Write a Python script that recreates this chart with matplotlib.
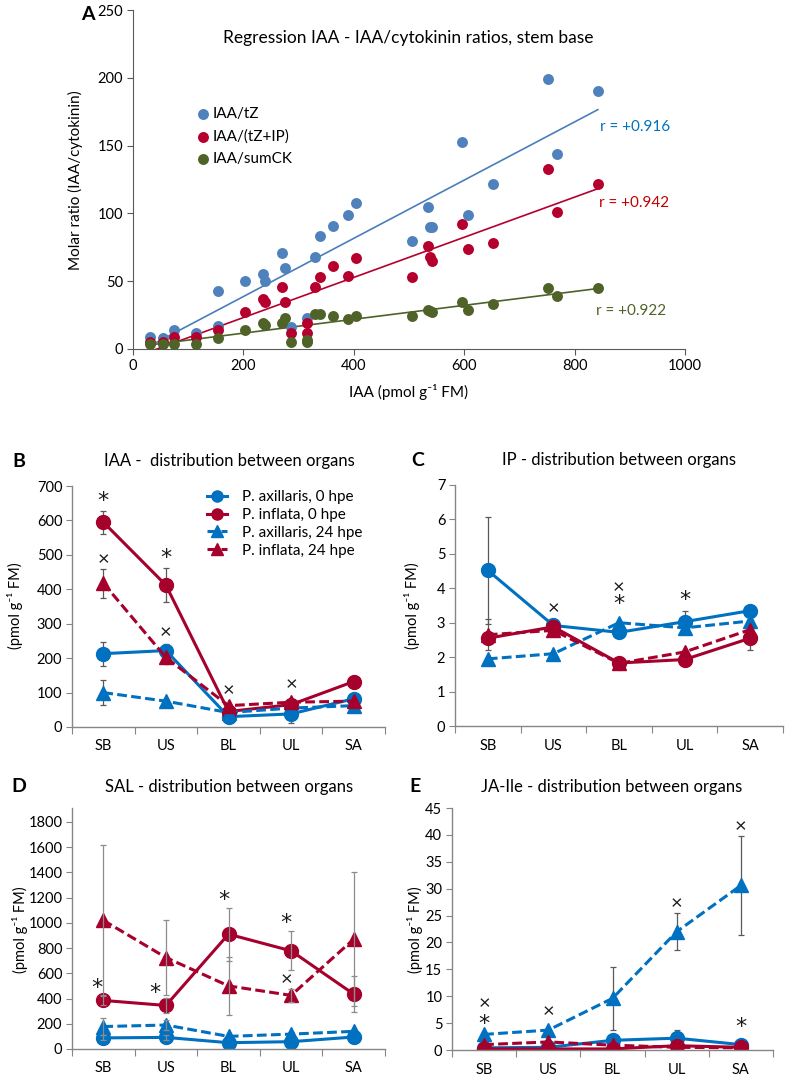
import numpy as np
import matplotlib.pyplot as plt
from matplotlib.lines import Line2D

plt.rcParams['font.family'] = ['Lato', 'DejaVu Sans']

# ---------------- panel A: regression data ----------------
iaa_tz = [31, 55, 75, 114, 154, 154, 203, 235, 239, 270, 275, 286, 315, 330,
          339, 362, 390, 404, 505, 534, 538, 542, 596, 606, 652, 751, 768, 842]
ratio_tz = [9, 8, 14, 12, 17, 43, 50, 55, 50, 71, 60, 16, 23, 68,
            83, 91, 99, 108, 80, 105, 90, 90, 153, 99, 122, 199, 144, 190]

iaa_tzip = [31, 55, 75, 114, 154, 203, 235, 239, 270, 275, 286, 315, 315, 330,
            339, 362, 390, 404, 505, 534, 538, 542, 596, 606, 652, 751, 768, 842]
ratio_tzip = [5, 5, 9, 9, 14, 27, 37, 35, 46, 35, 12, 19, 12, 46,
              53, 61, 54, 67, 53, 76, 68, 65, 92, 74, 78, 133, 101, 122]

iaa_sum = [31, 55, 75, 114, 154, 203, 235, 239, 270, 275, 286, 315, 315, 330,
           339, 362, 390, 404, 505, 534, 538, 542, 596, 606, 652, 751, 768, 842]
ratio_sum = [4, 4, 4, 4, 8, 14, 19, 18, 19, 23, 5, 7, 5, 26,
             26, 24, 22, 24, 24, 29, 28, 27, 35, 29, 33, 45, 39, 45]

r_labels = ['r = +0.916', 'r = +0.942', 'r = +0.922']
r_pos = [(846, 164), (844, 108), (839, 28)]

# ---------------- panels B-E: organ distribution ----------------
organs = ['SB', 'US', 'BL', 'UL', 'SA']
series_names = ['P. axillaris, 0 hpe', 'P. inflata, 0 hpe',
                'P. axillaris, 24 hpe', 'P. inflata, 24 hpe']

iaa_vals = [[213, 222, 30, 38, 82],
            [595, 412, 45, 65, 132],
            [100, 75, 42, 55, 62],
            [418, 202, 62, 72, 75]]
iaa_err = [[35, 20, 8, 25, 10],
           [33, 50, 0, 0, 0],
           [37, 0, 0, 0, 0],
           [42, 20, 0, 10, 0]]
iaa_marks = [(0, 655, '*'), (0, 487, '×'), (1, 490, '*'), (1, 275, '×'),
             (2, 105, '×'), (3, 122, '×')]

ip_vals = [[4.52, 2.92, 2.72, 3.03, 3.35],
           [2.55, 2.88, 1.83, 1.93, 2.55],
           [1.95, 2.10, 3.00, 2.85, 3.05],
           [2.65, 2.78, 1.82, 2.15, 2.80]]
ip_err = [[1.55, 0, 0, 0.3, 0],
          [0, 0, 0, 0, 0.35],
          [0, 0, 0, 0, 0],
          [0.45, 0, 0, 0, 0]]
ip_marks = [(1, 3.4, '×'), (2, 4.03, '×'), (2, 3.53, '*'), (3, 3.67, '*')]

sal_vals = [[88, 92, 50, 58, 95],
            [385, 345, 910, 778, 435],
            [178, 190, 100, 118, 140],
            [1020, 725, 500, 425, 870]]
sal_err = [[20, 20, 0, 0, 0],
           [40, 60, 210, 155, 140],
           [70, 40, 0, 0, 0],
           [600, 300, 230, 50, 530]]
sal_marks = [(-0.1, 484, '*'), (0.83, 444, '*'), (1.92, 1180, '*'),
             (2.92, 1000, '*'), (2.92, 548, '×')]

ja_vals = [[0.4, 0.5, 1.8, 2.2, 1.0],
           [0.2, 0.2, 0.2, 0.8, 0.5],
           [2.9, 3.7, 9.6, 22.0, 30.6],
           [1.0, 1.5, 0.9, 0.5, 0.4]]
ja_err = [[0, 0, 0, 1.5, 0],
          [0, 0, 0, 0, 0],
          [0, 0, 5.8, 3.4, 9.2],
          [0, 0, 0, 0, 0]]
ja_marks = [(0, 8.6, '×'), (0, 4.8, '*'), (1, 7.1, '×'), (3, 27.3, '×'),
            (4, 41.6, '×'), (4, 4.3, '*')]

BLUE = '#0070C0'
RED = '#A6002C'
styles = [(BLUE, 'o', 'solid'), (RED, 'o', 'solid'),
          (BLUE, '^', 'dashed'), (RED, '^', 'dashed')]

W, H = 790, 1081
fig = plt.figure(figsize=(W / 100, H / 100), dpi=100)


def px_axes(left, top, right, bottom):
    return fig.add_axes([left / W, 1 - bottom / H, (right - left) / W, (bottom - top) / H])


# ================= panel A =================
axA = px_axes(133, 10, 685, 349)
a_sets = [(iaa_tz, ratio_tz, '#4F81BD', '#4A7EBB', 'IAA/tZ'),
          (iaa_tzip, ratio_tzip, '#B5002D', '#B5002D', 'IAA/(tZ+IP)'),
          (iaa_sum, ratio_sum, '#4F6228', '#4F6228', 'IAA/sumCK')]
for xs, ys, mcol, lcol, lab in a_sets:
    xs = np.array(xs, float)
    ys = np.array(ys, float)
    axA.scatter(xs, ys, s=62, color=mcol, label=lab, zorder=3, linewidths=0)
    k, b = np.polyfit(xs, ys, 1)
    xx = np.array([xs.min(), xs.max()])
    axA.plot(xx, k * xx + b, color=lcol, lw=1.2, zorder=2)

r_cols = ['#0070C0', '#C00000', '#4F6228']
for txt, (xv, yv), c in zip(r_labels, r_pos, r_cols):
    axA.text(xv, yv, txt, color=c, fontsize=11, ha='left', va='center')

axA.set_xlim(0, 1000)
axA.set_ylim(0, 250)
axA.set_xticks(np.arange(0, 1001, 200))
axA.set_yticks(np.arange(0, 251, 50))
for s in ['top', 'right']:
    axA.spines[s].set_visible(False)
for s in ['left', 'bottom']:
    axA.spines[s].set_color('#595959')
axA.tick_params(direction='out', length=4, color='#595959', labelsize=10.5, pad=3)
axA.set_xlabel('IAA (pmol g⁻¹ FM)', fontsize=11, labelpad=8)
fig.text(75 / W, 1 - 180 / H, 'Molar ratio (IAA/cytokinin)', rotation=90,
         ha='center', va='center', fontsize=11)
fig.text(408 / W, 1 - 38 / H, 'Regression IAA - IAA/cytokinin ratios, stem base',
         ha='center', va='center', fontsize=12.5)
axA.legend(loc='upper left', bbox_to_anchor=(0.119, 0.714), frameon=False,
           handlelength=0.6, handletextpad=0.3, labelspacing=0.55, fontsize=11,
           borderaxespad=0, borderpad=0, scatterpoints=1)
fig.text(88 / W, 1 - 14 / H, 'A', fontsize=14, fontweight='bold', ha='center', va='center')


# ================= panels B-E =================
def organ_panel(ax, vals, errs, ytop, ystep, ymax_lim, marks, ecol, err_front):
    x = np.arange(len(organs))
    for v, e, (col, mk, ls) in zip(vals, errs, styles):
        line, = ax.plot(x, v, color=col, marker=mk, markersize=10 if mk == 'o' else 9.5,
                        lw=2.2, zorder=2, solid_capstyle='butt')
        if ls == 'dashed':
            line.set_dashes((3.2, 1.4))
        e = np.array(e, float)
        keep = e > 0
        if keep.any():
            ax.errorbar(x[keep], np.array(v, float)[keep], yerr=e[keep], fmt='none',
                        ecolor=ecol, elinewidth=0.9, capsize=2, capthick=0.9,
                        zorder=4 if err_front else 1)
    for xm, ym, sym in marks:
        if sym == '*':
            ax.text(xm, ym, sym, ha='center', va='center', fontsize=16,
                    family='DejaVu Sans', color='#1a1a1a', zorder=5)
        else:
            ax.text(xm, ym, sym, ha='center', va='center', fontsize=14.5,
                    color='#1a1a1a', zorder=5)
    ax.set_xlim(-0.5, len(organs) - 0.5)
    ax.set_ylim(0, ymax_lim)
    ax.set_yticks(np.arange(0, ytop + ystep / 2, ystep))
    ax.set_xticks(np.arange(-0.5, len(organs), 1.0))
    ax.set_xticklabels([])
    ax.set_xticks(x, minor=True)
    ax.set_xticklabels(organs, minor=True)
    ax.tick_params(axis='x', which='minor', length=0, pad=9, labelsize=10.5)
    ax.tick_params(axis='x', which='major', length=5, direction='out', color='#868686')
    ax.tick_params(axis='y', length=4, direction='out', color='#868686', labelsize=10.5, pad=3)
    for s in ['top', 'right']:
        ax.spines[s].set_visible(False)
    for s in ['left', 'bottom']:
        ax.spines[s].set_color('#868686')
        ax.spines[s].set_linewidth(1.0)


axB = px_axes(72, 486, 385, 727)
organ_panel(axB, iaa_vals, iaa_err, 700, 100, 700, iaa_marks, '#595959', False)
axC = px_axes(455, 485, 783, 726)
organ_panel(axC, ip_vals, ip_err, 7, 1, 7, ip_marks, '#595959', False)
axD = px_axes(72, 808, 385, 1049)
organ_panel(axD, sal_vals, sal_err, 1800, 200, 1910, sal_marks, '#8C8C8C', True)
axE = px_axes(452, 808, 773, 1050)
organ_panel(axE, ja_vals, ja_err, 45, 5, 45, ja_marks, '#595959', False)

handles = [Line2D([], [], color=c, marker=m, markersize=8, lw=2.2,
                  linestyle='-' if ls == 'solid' else (0, (3.2, 1.4)))
           for c, m, ls in styles]
axB.legend(handles, series_names, loc='upper left', bbox_to_anchor=(0.431, 0.983),
           frameon=False, fontsize=11, handlelength=1.3, handletextpad=1.0,
           labelspacing=0.25, borderaxespad=0, borderpad=0)

titles = [('B', 19, 461, 229, 'IAA -  distribution between organs'),
          ('C', 418, 460, 619, 'IP - distribution between organs'),
          ('D', 19, 787, 229, 'SAL - distribution between organs'),
          ('E', 415, 787, 612, 'JA-Ile - distribution between organs')]
for lab, lx, ly, tx, ttl in titles:
    fig.text(lx / W, 1 - ly / H, lab, fontsize=14, fontweight='bold', ha='center', va='center')
    fig.text(tx / W, 1 - ly / H, ttl, fontsize=12, ha='center', va='center')

for xl, yl in [(15, 606), (412, 606), (20, 930), (415, 930)]:
    fig.text(xl / W, 1 - yl / H, '(pmol g⁻¹ FM)', rotation=90, ha='center',
             va='center', fontsize=10.5)

fig.savefig('out.png', dpi=100)
